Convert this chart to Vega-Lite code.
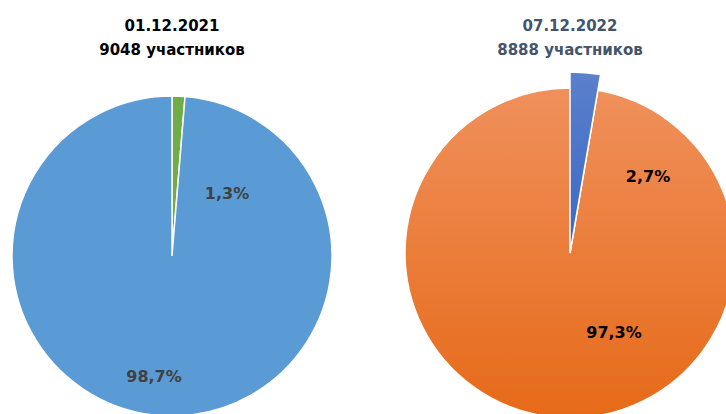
{
  "$schema": "https://vega.github.io/schema/vega-lite/v6.json",
  "width": 726,
  "height": 414,
  "autosize": {"type": "none"},
  "padding": 0,
  "background": "#ffffff",
  "config": {
    "view": {"stroke": null},
    "locale": {"number": {"decimal": ",", "thousands": " ", "grouping": [3], "currency": ["", ""]}}
  },
  "datasets": {
    "slices": [
      {"date": "01.12.2021", "part": "a", "share": 0.013},
      {"date": "01.12.2021", "part": "b", "share": 0.987},
      {"date": "07.12.2022", "part": "a", "share": 0.027},
      {"date": "07.12.2022", "part": "b", "share": 0.973}
    ],
    "titles": [
      {"date": "01.12.2021", "line": 1, "text": "01.12.2021"},
      {"date": "01.12.2021", "line": 2, "text": "9048 участников"},
      {"date": "07.12.2022", "line": 1, "text": "07.12.2022"},
      {"date": "07.12.2022", "line": 2, "text": "8888 участников"}
    ]
  },
  "resolve": {"scale": {"y": "independent", "color": "independent"}},
  "layer": [
    {
      "data": {"name": "slices"},
      "transform": [
        {"stack": "share", "groupby": ["date"], "sort": [{"field": "part", "order": "ascending"}], "as": ["s0", "s1"]}
      ],
      "encoding": {
        "x": {"field": "date", "type": "nominal", "scale": {"type": "point", "range": [172, 570], "padding": 0}, "axis": null},
        "y": {"field": "date", "type": "nominal", "scale": {"type": "point", "range": [256, 253], "padding": 0}, "axis": null}
      },
      "layer": [
        {
          "transform": [{"filter": "datum.date === '01.12.2021'"}],
          "mark": {"type": "arc", "radius": 160, "stroke": "#ffffff", "strokeWidth": 1.5, "color": "#5B9BD5"},
          "encoding": {
            "theta": {"field": "s0", "type": "quantitative", "scale": {"domain": [0, 1], "range": [0, 6.283185307]}},
            "theta2": {"field": "s1"},
            "fill": {"field": "part", "type": "nominal", "scale": {"domain": ["a", "b"], "range": ["#70AD47", "#5B9BD5"]}, "legend": null}
          }
        },
        {
          "transform": [{"filter": "datum.date === '07.12.2022' && datum.part === 'b'"}],
          "mark": {
            "type": "arc", "radius": 165, "stroke": "#ffffff", "strokeWidth": 1.5,
            "fill": {"gradient": "linear", "x1": 0, "y1": 0, "x2": 0, "y2": 1,
              "stops": [{"offset": 0, "color": "#F0905C"}, {"offset": 1, "color": "#E66A18"}]}
          },
          "encoding": {
            "theta": {"field": "s0", "type": "quantitative", "scale": {"domain": [0, 1], "range": [0, 6.283185307]}},
            "theta2": {"field": "s1"}
          }
        },
        {
          "transform": [{"filter": "datum.date === '07.12.2022' && datum.part === 'a'"}],
          "mark": {
            "type": "arc", "radius": 181, "stroke": "#ffffff", "strokeWidth": 1.5,
            "fill": {"gradient": "linear", "x1": 0, "y1": 0, "x2": 0, "y2": 1,
              "stops": [{"offset": 0, "color": "#5B80CC"}, {"offset": 1, "color": "#3A68C6"}]}
          },
          "encoding": {
            "theta": {"field": "s0", "type": "quantitative", "scale": {"domain": [0, 1], "range": [0, 6.283185307]}},
            "theta2": {"field": "s1"}
          }
        },
        {
          "transform": [{"filter": "datum.date === '01.12.2021' && datum.part === 'a'"}],
          "mark": {"type": "text", "font": "DejaVu Sans", "fontWeight": "bold", "fontSize": 16, "color": "#404040", "dx": 55, "dy": -62, "baseline": "middle"},
          "encoding": {"text": {"field": "share", "type": "quantitative", "format": ".1%"}}
        },
        {
          "transform": [{"filter": "datum.date === '01.12.2021' && datum.part === 'b'"}],
          "mark": {"type": "text", "font": "DejaVu Sans", "fontWeight": "bold", "fontSize": 16, "color": "#404040", "dx": -18, "dy": 121, "baseline": "middle"},
          "encoding": {"text": {"field": "share", "type": "quantitative", "format": ".1%"}}
        },
        {
          "transform": [{"filter": "datum.date === '07.12.2022' && datum.part === 'a'"}],
          "mark": {"type": "text", "font": "DejaVu Sans", "fontWeight": "bold", "fontSize": 16, "color": "#000000", "dx": 78, "dy": -76, "baseline": "middle"},
          "encoding": {"text": {"field": "share", "type": "quantitative", "format": ".1%"}}
        },
        {
          "transform": [{"filter": "datum.date === '07.12.2022' && datum.part === 'b'"}],
          "mark": {"type": "text", "font": "DejaVu Sans", "fontWeight": "bold", "fontSize": 16, "color": "#000000", "dx": 44, "dy": 80, "baseline": "middle"},
          "encoding": {"text": {"field": "share", "type": "quantitative", "format": ".1%"}}
        }
      ]
    },
    {
      "data": {"name": "titles"},
      "mark": {"type": "text", "font": "DejaVu Sans", "fontWeight": "bold", "fontSize": 15, "baseline": "alphabetic", "align": "center"},
      "encoding": {
        "x": {"field": "date", "type": "nominal", "scale": {"type": "point", "range": [172, 570], "padding": 0}, "axis": null},
        "y": {"field": "line", "type": "ordinal", "scale": {"type": "point", "range": [31, 55], "padding": 0}, "axis": null},
        "text": {"field": "text", "type": "nominal"},
        "color": {"field": "date", "type": "nominal", "scale": {"domain": ["01.12.2021", "07.12.2022"], "range": ["#000000", "#44546A"]}, "legend": null}
      }
    }
  ]
}
